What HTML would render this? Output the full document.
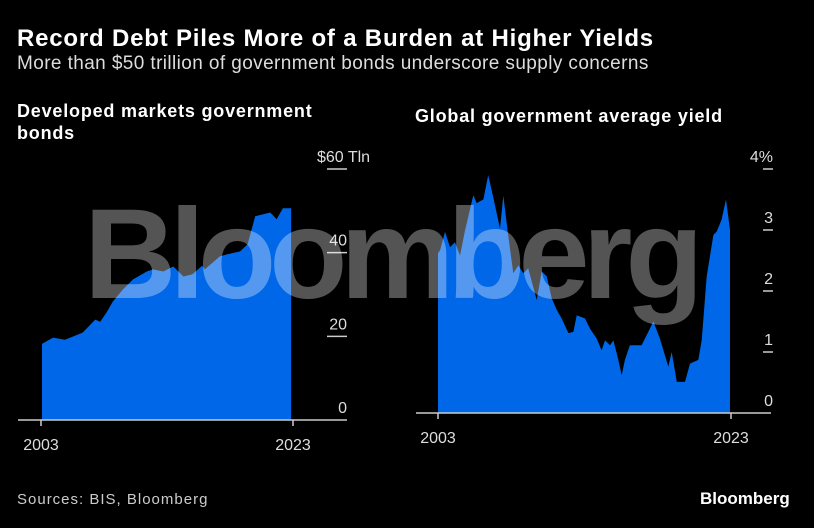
<!DOCTYPE html>
<html><head><meta charset="utf-8">
<style>
html,body{margin:0;padding:0;background:#000;}
body{width:814px;height:528px;overflow:hidden;position:relative;font-family:"Liberation Sans","DejaVu Sans",sans-serif;color:#fff;}
.t{position:absolute;white-space:nowrap;}
</style></head>
<body>
<div class="t" style="left:17px;top:25px;font-size:24px;font-weight:bold;letter-spacing:0.8px;">Record Debt Piles More of a Burden at Higher Yields</div>
<div class="t" style="left:17px;top:53px;font-size:19px;color:#ddd;letter-spacing:0.4px;">More than $50 trillion of government bonds underscore supply concerns</div>
<div class="t" style="left:17px;top:100px;font-size:18px;font-weight:bold;line-height:22px;letter-spacing:0.8px;">Developed markets government<br>bonds</div>
<div class="t" style="left:415px;top:106px;font-size:18px;font-weight:bold;letter-spacing:0.8px;">Global government average yield</div>
<div class="t" style="left:17px;top:491px;font-size:15px;color:#ccc;letter-spacing:1px;">Sources: BIS, Bloomberg</div>
<div class="t" style="left:700px;top:489px;font-size:17px;font-weight:bold;">Bloomberg</div>
<svg id="svg" width="814" height="528" style="position:absolute;left:0;top:0;"></svg>
<div class="t" style="left:84px;top:191px;font-size:128px;line-height:1;font-weight:bold;letter-spacing:-7px;color:rgba(255,255,255,0.33);">Bloomberg</div>
<script>
const debtYears=[2003.08,2003.95,2004.9,2005.5,2006.3,2007.3,2007.7,2008.2,2008.7,2009.5,2010.3,2011.4,2011.9,2012.7,2013.5,2014.3,2015,2015.8,2016,2017.2,2017.8,2018.8,2019.4,2020,2021.2,2021.7,2022.2,2022.85];
const debtValues=[18.2,19.7,19.2,19.9,20.9,24,23.5,25.7,28.3,31.2,33.6,35.5,36,35.5,36.7,34.3,34.8,36.9,36,39.1,39.6,40.3,42,48.7,49.6,48,50.6,50.6];
const debtTicks=[0,20,40,60];
const debtTickLabels=["0","20","40","$60 Tln"];
const yieldYears=[2003,2003.14,2003.48,2003.82,2004.16,2004.5,2004.84,2005.41,2005.64,2005.87,2006.1,2006.43,2006.77,2007.23,2007.46,2007.8,2008.14,2008.48,2008.82,2009.16,2009.5,2009.74,2010.08,2010.42,2010.76,2011.1,2011.44,2011.9,2012.24,2012.47,2013.03,2013.38,2013.83,2014.17,2014.4,2014.74,2014.97,2015.31,2015.54,2015.76,2016.1,2016.9,2017.7,2018.15,2018.72,2018.95,2019.3,2019.86,2020.2,2020.77,2021,2021.34,2021.8,2022.02,2022.36,2022.66,2022.93];
const yieldValues=[2.62,2.67,2.97,2.72,2.8,2.58,2.99,3.57,3.44,3.47,3.5,3.9,3.54,3.02,3.56,2.9,2.29,2.42,2.29,2.37,2.07,1.85,2.32,2.24,1.88,1.69,1.55,1.31,1.33,1.6,1.55,1.38,1.22,1.03,1.19,1.11,1.19,0.87,0.62,0.87,1.11,1.11,1.5,1.22,0.76,1.0,0.51,0.51,0.81,0.87,1.19,2.24,2.92,2.97,3.17,3.5,3.0];
const yieldTicks=[0,1,2,3,4];
const yieldTickLabels=["0","1","2","3","4%"];
const xTickYears=[2003,2023];

const NS="http://www.w3.org/2000/svg";
const svg=document.getElementById('svg');
function mk(tag,attrs){const e=document.createElementNS(NS,tag);for(const k in attrs)e.setAttribute(k,attrs[k]);svg.appendChild(e);return e;}

function panel(cfg){
  const x=y=>cfg.x0+(y-2003)/20*(cfg.x1-cfg.x0);
  const yy=v=>cfg.base-(v-cfg.vmin)/(cfg.vmax-cfg.vmin)*(cfg.base-cfg.top);
  let d="M"+x(cfg.years[0])+","+cfg.base;
  cfg.years.forEach((yr,i)=>{d+=" L"+x(yr).toFixed(1)+","+yy(cfg.vals[i]).toFixed(1);});
  d+=" L"+x(cfg.years[cfg.years.length-1])+","+cfg.base+" Z";
  const a=mk('path',{d:d,fill:'#0068e8'});
  
  
  const ax=mk('line',{x1:cfg.ax0,x2:cfg.ax1,y1:cfg.base,y2:cfg.base,stroke:'#ccc','stroke-width':1.5});
  
  
  xTickYears.forEach(yr=>{
    const l=mk('line',{x1:x(yr),x2:x(yr),y1:cfg.base,y2:cfg.base+6,stroke:'#ccc','stroke-width':1.5});
    
    
    const t=mk('text',{x:x(yr),y:cfg.base+30,fill:'#ddd','font-size':16,'text-anchor':'middle','font-family':'Liberation Sans, sans-serif'});
    t.textContent=String(yr);
    
    
  });
  cfg.ticks.forEach((v,i)=>{
    const py=yy(v);
    if(v!==cfg.vmin){
      const l=mk('line',{x1:cfg.tx0,x2:cfg.tx1,y1:py,y2:py,stroke:'#ccc','stroke-width':1.5});
      
      
    }
    const isTop=(i===cfg.ticks.length-1)&&cfg.topStart;
    const t=mk('text',{x:isTop?cfg.topStart:cfg.lx,y:py-7,fill:'#ddd','font-size':16,'text-anchor':isTop?'start':'end','font-family':'Liberation Sans, sans-serif'});
    t.textContent=cfg.labels[i];
    
    
  });
}
panel({name:'debt',years:debtYears,vals:debtValues,ticks:debtTicks,labels:debtTickLabels,x0:41,x1:293,base:420,top:169,vmin:0,vmax:60,ax0:18,ax1:347,tx0:327,tx1:347,lx:347,topStart:317});
panel({name:'yield',years:yieldYears,vals:yieldValues,ticks:yieldTicks,labels:yieldTickLabels,x0:438,x1:731,base:413,top:169,vmin:0,vmax:4,ax0:416,ax1:771,tx0:763,tx1:773,lx:773});
</script>
</body></html>
